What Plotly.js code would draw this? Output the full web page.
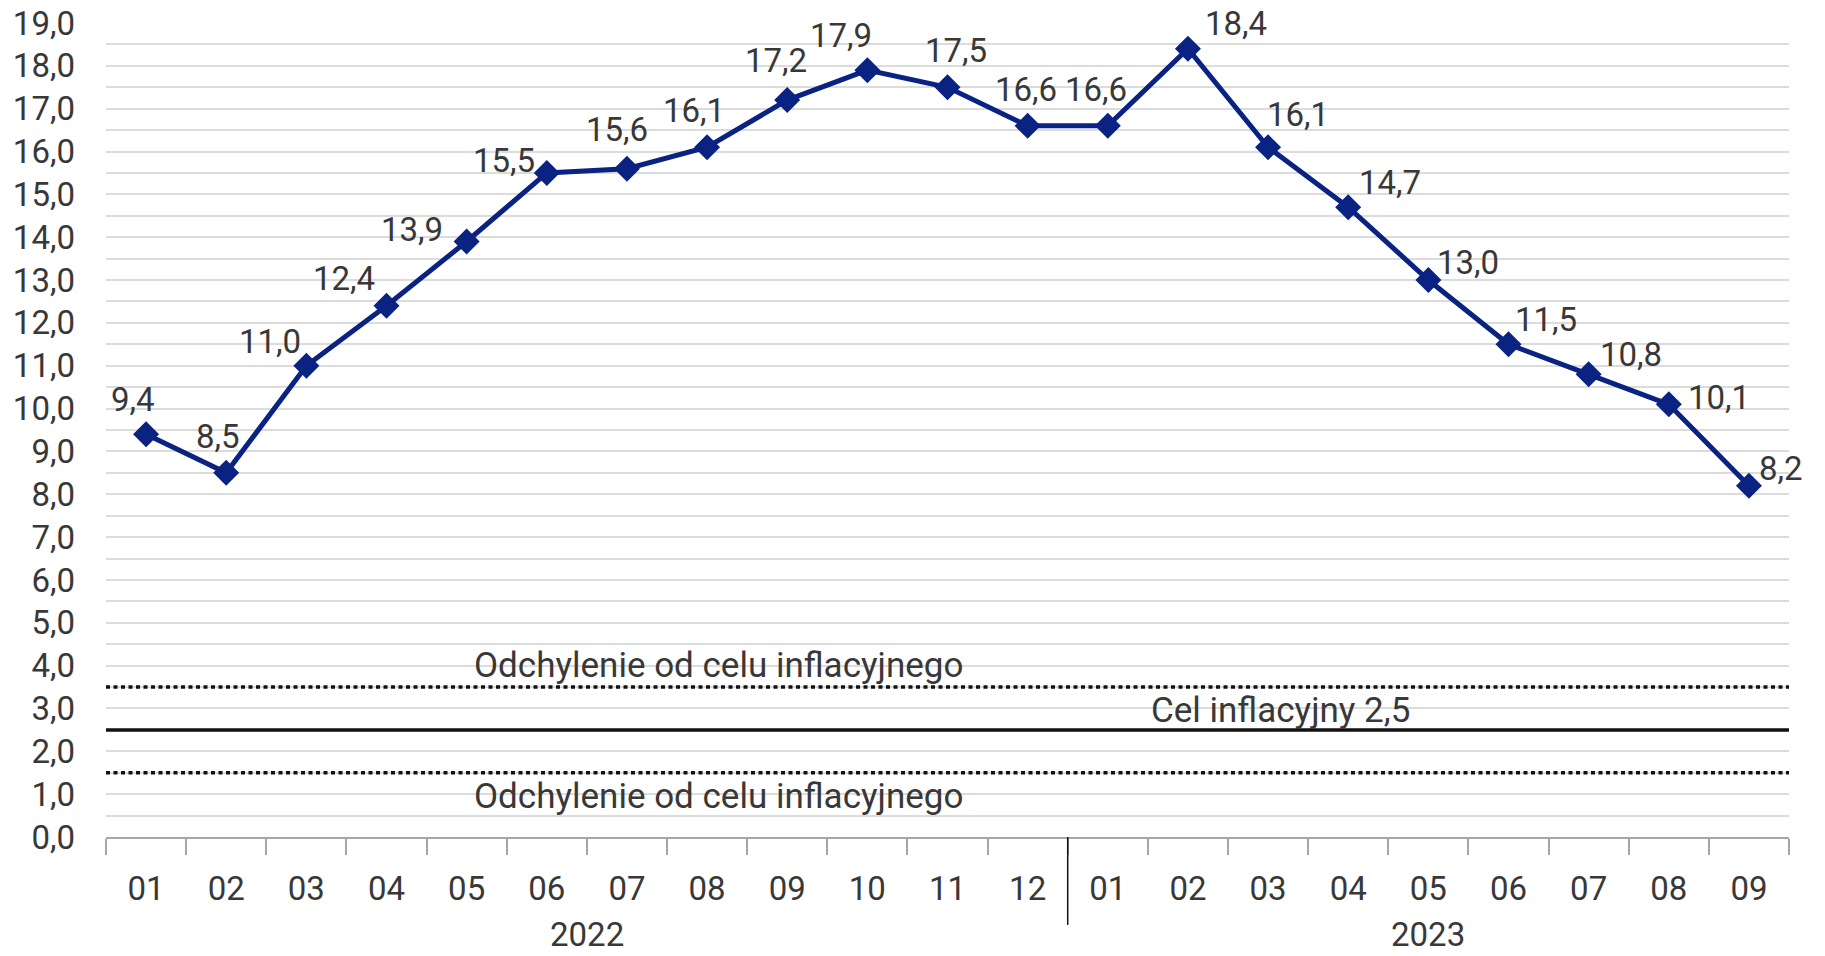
<!DOCTYPE html>
<html>
<head>
<meta charset="utf-8">
<script src="https://cdn.plot.ly/plotly-3.0.1.min.js"></script>
<style>
  html, body { margin: 0; padding: 0; background: #fff; }
  #chart { width: 1825px; height: 956px; }
</style>
</head>
<body>
<div id="chart"></div>
<script>
// monthly CPI y/y, Jan 2022 - Sep 2023
const years = ["2022", "2022", "2022", "2022", "2022", "2022", "2022", "2022", "2022", "2022", "2022", "2022",
               "2023", "2023", "2023", "2023", "2023", "2023", "2023", "2023", "2023"];
const months = ["01", "02", "03", "04", "05", "06", "07", "08", "09", "10", "11", "12",
                "01", "02", "03", "04", "05", "06", "07", "08", "09"];
const inflation = [9.4, 8.5, 11.0, 12.4, 13.9, 15.5, 15.6, 16.1, 17.2, 17.9, 17.5, 16.6,
                   16.6, 18.4, 16.1, 14.7, 13.0, 11.5, 10.8, 10.1, 8.2];

const target = 2.5;
const toleranceBand = [1.5, 3.5];
const bandLabel = "Odchylenie od celu inflacyjnego";
const targetLabel = "Cel inflacyjny 2,5";

// where each value label sits relative to its point (px)
const labelDx = [-13, -8, -36, -43, -55, -43, -10, -13, -11, -26, 8, -2, -12, 48, 30, 42, 40, 37, 42, 50, 32];
const labelDy = [-35, -36, -24, -27, -12, -12, -39, -37, -40, -35, -37, -36, -36, -25, -33, -25, -18, -25, -20, -7, -17];

const NAVY = "#0a2282";
const TEXT = "#383838";
const FONT = "Roboto, 'DejaVu Sans', sans-serif";
const SIZE = 33;

// category slots on a plain numeric axis
const idx = months.map((m, i) => i);
const yearNames = [...new Set(years)];
const yearCenters = yearNames.map(y => {
    const ii = idx.filter(i => years[i] === y);
    return (ii[0] + ii[ii.length - 1]) / 2;
});
const yearBreaks = idx.filter(i => i > 0 && years[i] !== years[i - 1]).map(i => i - 0.5);

const trace = {
    x: idx,
    y: inflation,
    type: "scatter",
    mode: "lines+markers",
    line: { color: NAVY, width: 5 },
    marker: { symbol: "diamond", size: 20, color: NAVY },
    hoverinfo: "skip",
    showlegend: false,
    cliponaxis: false,
};

const refLine = (v, dash) => ({
    type: "line", xref: "paper", x0: 0, x1: 1, yref: "y", y0: v, y1: v,
    line: { color: "#111", width: 3.5, dash: dash }, layer: "above",
});

const shapes = [refLine(target, "solid")]
    .concat(toleranceBand.map(v => refLine(v, "4px,3.5px")))
    .concat(yearBreaks.map(b => ({
        type: "line", xref: "x", x0: b, x1: b, yref: "paper", y0: 0, y1: -0.108,
        line: { color: "#111", width: 1.5 },
    })));

const textAnn = (text, x, y) => ({
    text: text, xref: "paper", x: x, yref: "y", y: y,
    showarrow: false, xanchor: "center", yanchor: "middle",
    font: { family: FONT, size: 35, color: TEXT },
});

const valueLabels = inflation.map((v, i) => ({
    text: v.toFixed(1).replace(".", ","),
    xref: "x", x: idx[i], yref: "y", y: v,
    xshift: labelDx[i], yshift: -labelDy[i],
    showarrow: false, xanchor: "center", yanchor: "middle",
    font: { family: FONT, size: SIZE, color: TEXT },
}));

const annotations = [
    textAnn(bandLabel, 0.364, toleranceBand[1] + 0.5),
    textAnn(bandLabel, 0.364, toleranceBand[0] - 0.55),
    textAnn(targetLabel, 0.698, target + 0.46),
].concat(valueLabels).concat(yearNames.map((y, k) => ({
    text: y, xref: "x", x: yearCenters[k], yref: "paper", y: -0.120,
    showarrow: false, xanchor: "center", yanchor: "middle",
    font: { family: FONT, size: SIZE, color: TEXT },
})));

Plotly.newPlot("chart", [trace], {
    width: 1825,
    height: 956,
    margin: { l: 106, r: 36, t: 23, b: 119 },
    separators: ", ",
    paper_bgcolor: "#fff",
    plot_bgcolor: "#fff",
    font: { family: FONT, size: SIZE, color: TEXT },
    xaxis: {
        range: [-0.5, months.length - 0.5],
        tickmode: "array",
        tickvals: idx,
        ticktext: months,
        ticks: "",
        ticklabelstandoff: 21,
        showgrid: false,
        zeroline: false,
        showline: true,
        linecolor: "#a6a6a6",
        linewidth: 2,
        minor: {
            tickmode: "linear", tick0: -0.5, dtick: 1,
            ticks: "outside", ticklen: 16, tickwidth: 2, tickcolor: "#a6a6a6",
            showgrid: false,
        },
        tickfont: { family: FONT, size: SIZE, color: TEXT },
    },
    yaxis: {
        range: [0, 19],
        dtick: 1,
        tickformat: ".1f",
        showgrid: true,
        gridcolor: "#dcdcdc",
        gridwidth: 2,
        zeroline: false,
        showline: false,
        ticks: "",
        ticklabelstandoff: 30,
        minor: { dtick: 0.5, showgrid: true, gridcolor: "#dcdcdc", gridwidth: 2 },
        tickfont: { family: FONT, size: SIZE, color: TEXT },
    },
    shapes: shapes,
    annotations: annotations,
    hovermode: false,
}, { displayModeBar: false, staticPlot: true });
</script>
</body>
</html>
